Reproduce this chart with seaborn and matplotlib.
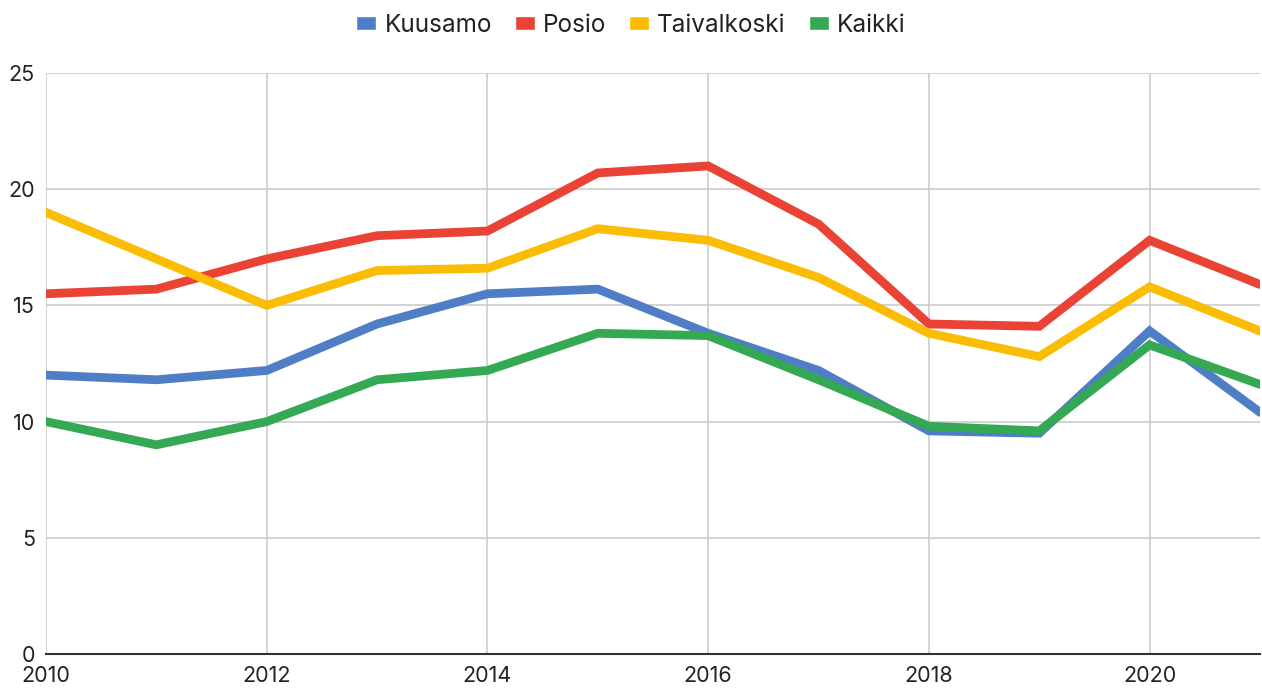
import numpy as np
import pandas as pd
import matplotlib
matplotlib.use("Agg")
import matplotlib.pyplot as plt
import seaborn as sns

years = list(range(2010, 2022))
kuusamo = [12.0, 11.8, 12.2, 14.2, 15.5, 15.7, 13.8, 12.2, 9.6, 9.5, 13.9, 10.4]
posio = [15.5, 15.7, 17.0, 18.0, 18.2, 20.7, 21.0, 18.5, 14.2, 14.1, 17.8, 15.9]
taivalkoski = [19.0, 17.0, 15.0, 16.5, 16.6, 18.3, 17.8, 16.2, 13.8, 12.8, 15.8, 13.9]
kaikki = [10.0, 9.0, 10.0, 11.8, 12.2, 13.8, 13.7, 11.8, 9.8, 9.6, 13.3, 11.6]

series = {"Kuusamo": kuusamo, "Posio": posio, "Taivalkoski": taivalkoski, "Kaikki": kaikki}
colors = {"Kuusamo": "#4f7ec6", "Posio": "#ea4335", "Taivalkoski": "#fbbc04", "Kaikki": "#34a853"}

df = pd.DataFrame([
    {"Vuosi": y, "Arvo": v, "Sarja": name}
    for name, vals in series.items() for y, v in zip(years, vals)
])

sns.set_theme(style="white")
plt.rcParams['font.family'] = ['Inter', 'DejaVu Sans']

fig = plt.figure(figsize=(12.62, 6.88), dpi=100)
ax = fig.add_axes([46/1262, 34/688, 1214/1262, 581/688])

sns.lineplot(data=df, x="Vuosi", y="Arvo", hue="Sarja", palette=colors,
             linewidth=6.3, ax=ax, legend=False, solid_joinstyle="miter", zorder=3)

ax.set_xlim(2010, 2021)
ax.set_ylim(0, 25)
ax.set_xticks([2010, 2012, 2014, 2016, 2018, 2020])
ax.set_yticks([0, 5, 10, 15, 20, 25])
ax.grid(True, color="#cccccc", linewidth=1.2, zorder=0)
ax.set_axisbelow(True)
for s in ["top", "right", "left"]:
    ax.spines[s].set_visible(False)
ax.spines["bottom"].set_color("#333333")
ax.spines["bottom"].set_linewidth(1.5)
ax.spines["bottom"].set_zorder(4)
ax.set_xlabel("")
ax.set_ylabel("")
ax.tick_params(axis="both", length=0, labelsize=15.5, colors="#222222")
ax.tick_params(axis="y", pad=8)
ax.tick_params(axis="x", pad=9)

from matplotlib.patches import Patch
handles = [Patch(facecolor=colors[n], label=n) for n in series]
fig.legend(handles=handles, loc="upper center", bbox_to_anchor=(0.5, 1.012), ncol=4,
           frameon=False, fontsize=17.5, handlelength=0.82, handleheight=0.5,
           handletextpad=0.33, columnspacing=0.95, labelcolor="#222222")

fig.savefig("out.png", dpi=100)
